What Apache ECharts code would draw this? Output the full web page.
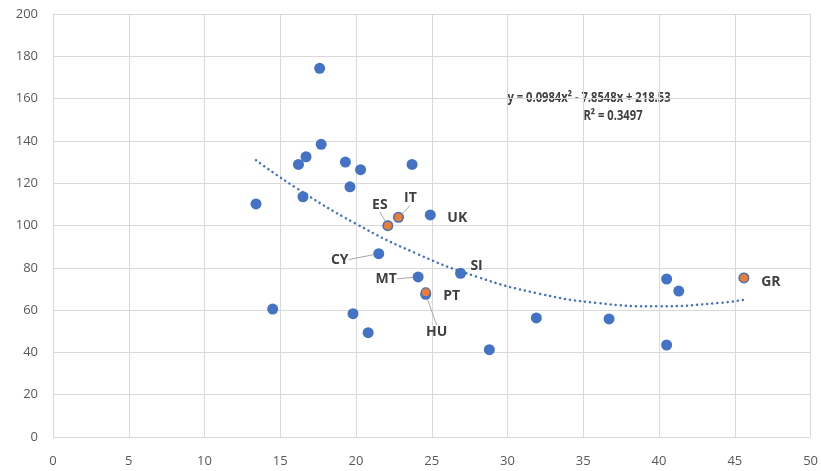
<!DOCTYPE html>
<html><head><meta charset="utf-8">
<script src="https://cdn.jsdelivr.net/npm/echarts@6/dist/echarts.min.js"></script>
<style>html,body{margin:0;padding:0;background:#fff}#c{width:821px;height:471px}</style>
</head><body><div id="c"></div>
<script>
// Blue points (x, y)
const blueX = [17.6, 17.7, 16.7, 16.2, 19.3, 20.3, 23.7, 19.6, 16.5, 13.4, 24.9, 22.8, 22.1, 21.5, 26.9, 24.1, 24.6, 19.8, 20.8, 28.8, 14.5, 31.9, 36.7, 40.5, 41.3, 40.5, 45.6];
const blueY = [174.3, 138.4, 132.5, 128.9, 130.0, 126.4, 128.9, 118.3, 113.6, 110.2, 105.0, 103.9, 99.9, 86.7, 77.4, 75.7, 67.5, 58.3, 49.3, 41.3, 60.5, 56.3, 55.8, 74.7, 69.0, 43.5, 75.2];
const blueNames = ['', '', '', '', '', '', '', '', '', '', 'UK', '', '', 'CY', 'SI', 'MT', 'HU', '', '', '', '', '', '', '', '', '', ''];
// Highlighted (orange) points
const orangeNames = ['ES', 'IT', 'PT', 'GR'];
const orangeX = [22.1, 22.8, 24.6, 45.6];
const orangeY = [99.9, 103.9, 68.4, 75.2];
// Trendline
const trendX = [13.4, 16, 20, 24, 28, 32, 36, 40, 44, 45.6];
const trendY = [130.9, 118.0, 100.8, 86.7, 75.7, 67.9, 63.3, 61.8, 63.4, 64.9];
const eqText = 'y = 0.0984x² - 7.8548x + 218.53';
const r2Text = 'R² = 0.3497';
const xTicks = [0, 50, 5];
const yTicks = [0, 200, 20];

const labelPos = {
  UK: {dx: 27, dy: 3, line: false},
  CY: {dx: -39, dy: 6, line: true},
  SI: {dx: 16, dy: -7, line: false},
  MT: {dx: -32, dy: 2, line: true},
  HU: {dx: 11, dy: 38, line: true},
  ES: {dx: -8, dy: -21, line: true},
  IT: {dx: 12, dy: -19, line: true},
  PT: {dx: 26, dy: 4, line: false},
  GR: {dx: 27, dy: 4, line: false}
};
const FONT = "'Open Sans', 'Noto Sans', sans-serif";
function mk(names, xs, ys) {
  return xs.map((x, i) => {
    const n = names[i];
    const d = {value: [x, ys[i]], name: n};
    if (n) {
      d.label = {show: true, formatter: n, position: 'inside'};
      d.labelLine = {show: labelPos[n].line};
    }
    return d;
  });
}
const chart = echarts.init(document.getElementById('c'));
const labelStyle = {color: '#404040', fontWeight: 'bold', fontSize: 14, fontFamily: FONT};
chart.setOption({
  animation: false,
  grid: {left: 53, right: 8, top: 14, bottom: 34},
  xAxis: {type: 'value', min: xTicks[0], max: xTicks[1], interval: xTicks[2],
    axisLine: {show: false}, axisTick: {show: false},
    splitLine: {lineStyle: {color: '#d9d9d9'}},
    axisLabel: {color: '#595959', fontSize: 13, fontFamily: FONT, margin: 18}},
  yAxis: {type: 'value', min: yTicks[0], max: yTicks[1], interval: yTicks[2],
    axisLine: {show: false}, axisTick: {show: false},
    splitLine: {lineStyle: {color: '#d9d9d9'}},
    axisLabel: {color: '#595959', fontSize: 13, fontFamily: FONT, margin: 15}},
  series: [
    {type: 'line', data: trendX.map((x, i) => [x, trendY[i]]), smooth: true, showSymbol: false, z: 1,
      lineStyle: {color: '#4472C4', width: 2.5, type: [0.1, 5], cap: 'round'}},
    {type: 'scatter', symbolSize: 11, z: 2, itemStyle: {color: '#4472C4', opacity: 1},
      data: mk(blueNames, blueX, blueY),
      label: Object.assign({show: false}, labelStyle),
      labelLine: {show: false, lineStyle: {color: '#a6a6a6', width: 1}},
      labelLayout: p => { const n = blueNames[p.dataIndex]; const o = labelPos[n]; return o ? {dx: o.dx, dy: o.dy} : {}; }},
    {type: 'scatter', symbolSize: 9, z: 3, itemStyle: {color: '#ED7D31', borderColor: '#4472C4', borderWidth: 1.2, opacity: 1},
      data: mk(orangeNames, orangeX, orangeY),
      label: Object.assign({show: false}, labelStyle),
      labelLine: {show: false, lineStyle: {color: '#a6a6a6', width: 1}},
      labelLayout: p => { const o = labelPos[orangeNames[p.dataIndex]]; return {dx: o.dx, dy: o.dy}; }}
  ],
  graphic: [
    {type: 'text', x: 589, y: 98, scaleX: 0.8, style: {text: eqText, fill: '#404040', font: 'bold 14px ' + FONT, textAlign: 'center', textVerticalAlign: 'middle'}},
    {type: 'text', x: 613, y: 116, scaleX: 0.8, style: {text: r2Text, fill: '#404040', font: 'bold 14px ' + FONT, textAlign: 'center', textVerticalAlign: 'middle'}}
  ]
});
</script></body></html>
